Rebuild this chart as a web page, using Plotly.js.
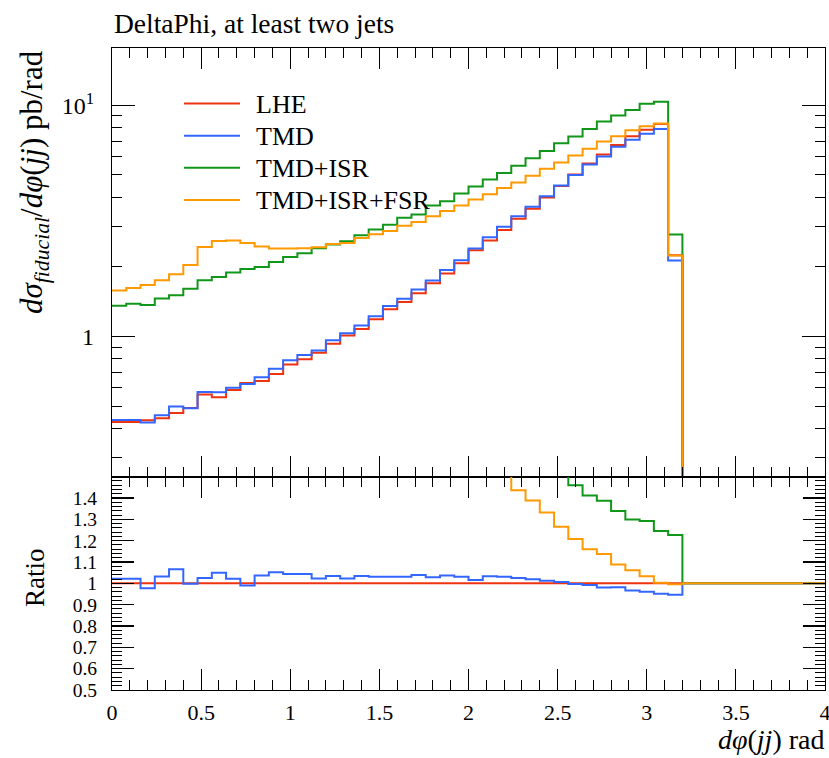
<!DOCTYPE html>
<html>
<head>
<meta charset="utf-8">
<script src="https://cdn.plot.ly/plotly-3.0.1.min.js"></script>
<style>html,body{margin:0;padding:0;background:#fff;}#chart{width:829px;height:758px;}</style>
</head>
<body>
<div id="chart"></div>
<script>
// ---- data ----
const binEdges = [0.00,0.08,0.16,0.24,0.32,0.40,0.48,0.56,0.64,0.72,0.80,0.88,0.96,1.04,1.12,1.20,1.28,1.36,1.44,1.52,1.60,1.68,1.76,1.84,1.92,2.00,2.08,2.16,2.24,2.32,2.40,2.48,2.56,2.64,2.72,2.80,2.88,2.96,3.04,3.12,3.20,3.28,3.36,3.44,3.52,3.60,3.68,3.76,3.84,3.92,4.00];

const lhe = [0.427,0.427,0.435,0.443,0.467,0.491,0.562,0.547,0.587,0.630,
             0.643,0.689,0.757,0.798,0.851,0.931,1.011,1.079,1.188,1.313,
             1.412,1.537,1.700,1.871,2.076,2.363,2.602,2.890,3.229,3.572,
             3.992,4.473,5.015,5.595,6.126,6.741,7.350,7.846,8.307,2.249,
             0,0,0,0,0,0,0,0,0,0];

const tmd = [0.436,0.436,0.425,0.457,0.498,0.490,0.576,0.574,0.600,0.624,
             0.667,0.725,0.790,0.833,0.870,0.963,1.034,1.116,1.225,1.354,
             1.456,1.598,1.748,1.940,2.140,2.400,2.690,2.980,3.310,3.640,
             4.040,4.500,5.000,5.550,6.010,6.620,7.100,7.540,7.900,2.130,
             0,0,0,0,0,0,0,0,0,0];

const tmdIsr = [1.36,1.385,1.37,1.46,1.51,1.61,1.75,1.81,1.89,1.96,
                2.00,2.10,2.21,2.29,2.41,2.50,2.58,2.74,2.90,3.04,
                3.26,3.37,3.69,3.85,4.15,4.45,4.77,5.10,5.48,5.90,
                6.35,6.85,7.32,7.90,8.50,9.03,9.55,10.14,10.35,2.76,
                0,0,0,0,0,0,0,0,0,0];

const tmdIsrFsr = [1.58,1.62,1.67,1.75,1.86,2.04,2.44,2.59,2.60,2.54,
                   2.45,2.40,2.40,2.41,2.43,2.51,2.54,2.67,2.77,2.86,
                   3.01,3.13,3.31,3.49,3.69,3.91,4.12,4.39,4.64,4.96,
                   5.32,5.66,6.06,6.49,6.97,7.34,7.80,8.11,8.33,2.24,
                   0,0,0,0,0,0,0,0,0,0];

const seriesNames = ['LHE','TMD','TMD+ISR','TMD+ISR+FSR'];
const xTickVals = [0,0.5,1,1.5,2,2.5,3,3.5,4];
const xTickText = ['0','0.5','1','1.5','2','2.5','3','3.5','4'];
const yTickVals = [1,10];
const yTickText = ['1','10<sup>1</sup>'];
const yMinorVals = [0.3,0.4,0.5,0.6,0.7,0.8,0.9,2,3,4,5,6,7,8,9];
const ratioTickVals = [0.5,0.6,0.7,0.8,0.9,1.0,1.1,1.2,1.3,1.4];
const ratioTickText = ['0.5','0.6','0.7','0.8','0.9','1','1.1','1.2','1.3','1.4'];

// ---- styling ----
const colors = ['#ee3311','#3366ff','#109618','#ff9900'];
const FONT = 'Liberation Serif, Times New Roman, serif';
const allSeries = [lhe, tmd, tmdIsr, tmdIsrFsr];

const W = 829, H = 758;
const M = {l:112, r:4, t:48, b:68};
const plotW = W - M.l - M.r, plotH = H - M.t - M.b;
const splitPx = 476.7; // boundary between main and ratio panel (page px)
const split = (H - M.b - splitPx) / plotH;
const px = x => (x - M.l) / plotW;
const py = y => (H - M.b - y) / plotH;

function stepY(vals, floor) {
  const y = vals.map(v => v > 0 ? v : floor);
  y.push(y[y.length - 1]);
  return y;
}

const traces = [];
allSeries.forEach((s, i) => {
  traces.push({
    type: 'scatter', mode: 'lines', name: seriesNames[i],
    x: binEdges, y: stepY(s, 1e-3),
    xaxis: 'x', yaxis: 'y',
    line: {shape: 'hv', color: colors[i], width: 2},
    showlegend: false, hoverinfo: 'skip'
  });
});
allSeries.forEach((s, i) => {
  const r = s.map((v, k) => lhe[k] > 0 ? v / lhe[k] : 1);
  traces.push({
    type: 'scatter', mode: 'lines', name: seriesNames[i] + ' ratio',
    x: binEdges, y: stepY(r, 1),
    xaxis: 'x2', yaxis: 'y2',
    line: {shape: 'hv', color: colors[i], width: 2},
    showlegend: false, hoverinfo: 'skip'
  });
});

const common = {
  showline: true, linecolor: '#000', linewidth: 1.1, mirror: 'allticks',
  ticks: 'inside', tickcolor: '#000', tickwidth: 1.1,
  showgrid: false, zeroline: false,
  ticklabeloverflow: 'allow',
  tickfont: {family: FONT, size: 22, color: '#000'}
};
const minorX = {ticks: 'inside', dtick: 0.1, tick0: 0, ticklen: 10, tickcolor: '#000', tickwidth: 1};

const layout = {
  width: W, height: H,
  margin: M,
  paper_bgcolor: '#fff', plot_bgcolor: '#fff',
  showlegend: false,
  title: {text: 'DeltaPhi, at least two jets', font: {family: FONT, size: 27.5, color: '#000'},
          xref: 'paper', x: px(114), xanchor: 'left', yref: 'container', y: 1 - 23/H, yanchor: 'middle'},
  xaxis: Object.assign({}, common, {
    anchor: 'y', range: [0, 4], tickvals: xTickVals, ticklen: 21, showticklabels: false, minor: minorX
  }),
  xaxis2: Object.assign({}, common, {
    anchor: 'y2', matches: 'x', range: [0, 4], tickvals: xTickVals, ticktext: xTickText, ticklen: 21,
    ticklabelstandoff: 2, minor: minorX
  }),
  yaxis: Object.assign({}, common, {
    type: 'log', domain: [split, 1], anchor: 'x',
    range: [-0.606, 1.2476], tickvals: yTickVals, ticktext: yTickText, ticklen: 23,
    ticklabelstandoff: 12,
    tickfont: {family: FONT, size: 24, color: '#000'},
    minor: {ticks: 'inside', tickmode: 'array', tickvals: yMinorVals, ticklen: 10, tickcolor: '#000', tickwidth: 1}
  }),
  yaxis2: Object.assign({}, common, {
    domain: [0, split], anchor: 'x2',
    range: [0.5, 1.5], tickvals: ratioTickVals, ticktext: ratioTickText, ticklen: 22,
    ticklabelstandoff: 10,
    tickfont: {family: FONT, size: 19.5, color: '#000'},
    minor: {ticks: 'inside', dtick: 0.02, tick0: 0.5, ticklen: 10, tickcolor: '#000', tickwidth: 1}
  }),
  shapes: [],
  annotations: [
    {xref: 'paper', yref: 'paper', x: px(34), y: 1, xanchor: 'center', yanchor: 'top', textangle: -90,
     showarrow: false, font: {family: FONT, size: 31, color: '#000'},
     text: '<i>dσ</i><sub><i>fiducial</i></sub>/<i>dφ</i>(<i>jj</i>) pb/rad'},
    {xref: 'paper', yref: 'paper', x: px(35), y: py(578), xanchor: 'center', yanchor: 'middle', textangle: -90,
     showarrow: false, font: {family: FONT, size: 27, color: '#000'}, text: 'Ratio'},
    {xref: 'paper', yref: 'paper', x: px(826), y: py(739), xanchor: 'right', yanchor: 'middle',
     showarrow: false, font: {family: FONT, size: 28, color: '#000'},
     text: '<i>dφ</i>(<i>jj</i>) rad'}
  ]
};

// custom legend (long line samples like the reference)
const legY = [103.5, 135.8, 167.8, 200];
seriesNames.forEach((n, i) => {
  layout.shapes.push({type: 'line', xref: 'paper', yref: 'paper',
    x0: px(184), x1: px(240), y0: py(legY[i]), y1: py(legY[i]),
    line: {color: colors[i], width: 2}});
  layout.annotations.push({xref: 'paper', yref: 'paper', x: px(254), y: py(legY[i] + 1),
    xanchor: 'left', yanchor: 'middle', showarrow: false, text: n,
    font: {family: FONT, size: 26, color: '#000'}});
});

Plotly.newPlot('chart', traces, layout, {staticPlot: true, displayModeBar: false});
</script>
</body>
</html>
